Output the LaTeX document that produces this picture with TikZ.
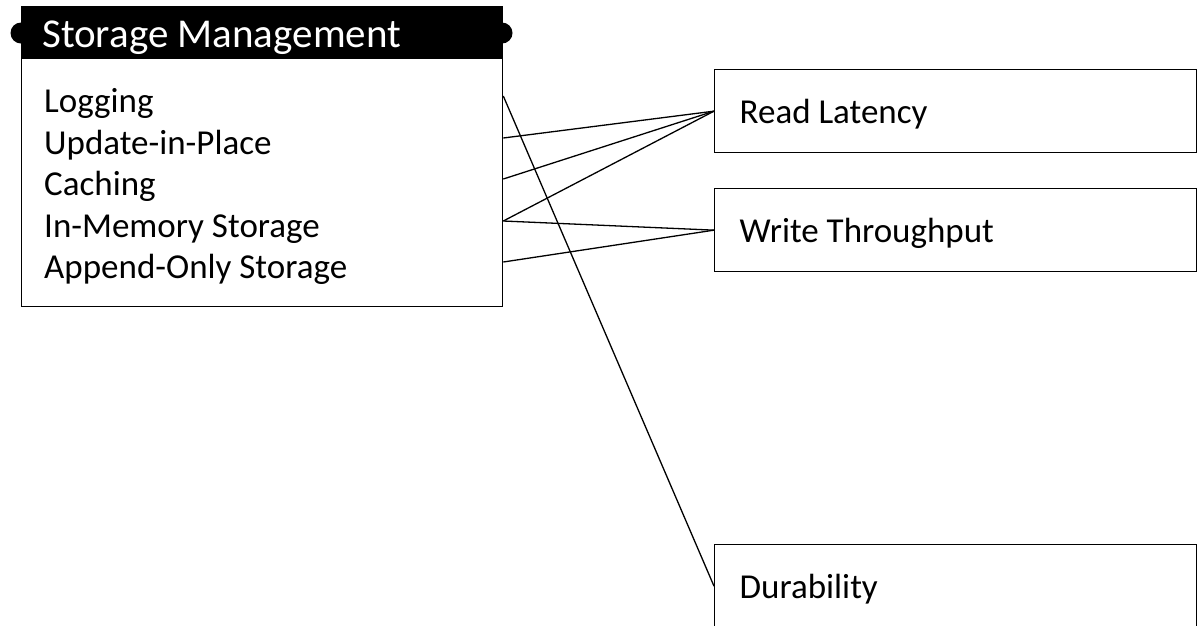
\documentclass[tikz,border=0pt]{standalone}
\usepackage{fontspec}
\setmainfont{Carlito}
\usetikzlibrary{positioning,calc}

\tikzset{
  edge/.style={line width=1.3pt},
  headbar/.style={fill=black, draw=black, line width=1.3pt, anchor=north west,
    minimum width=481pt, minimum height=52pt, inner sep=0pt},
  headtext/.style={text=white, anchor=base west, inner sep=0pt,
    font=\fontsize{41pt}{49pt}\selectfont},
  bodybox/.style={draw, line width=1.3pt, anchor=north west,
    minimum width=481pt, minimum height=248pt, inner sep=0pt},
  item/.style={anchor=base west, inner sep=0pt, text height=32pt, text depth=0pt,
    font=\fontsize{35pt}{42pt}\selectfont},
  attr/.style={draw, line width=1.3pt, anchor=north west, minimum height=83pt,
    text width=432pt, inner xsep=25pt, inner ysep=0pt, align=flush left,
    text height=30pt, text depth=5pt, font=\fontsize{35pt}{42pt}\selectfont},
}

\begin{document}
\begin{tikzpicture}[x=1pt, y=-1pt]
  \useasboundingbox (0,0) rectangle (1201,625);
  % entity box
  \fill (21,33) circle[radius=10.5];
  \fill (502,33) circle[radius=10.5];
  \node[headbar] (head) at (21,6) {};
  \node[headtext] (title) at (42,47) {Storage Management};
  \node[bodybox] (body) at (21,58) {};
  \node[item] (logging) at (44,112) {Logging};
  \node[item] (update) at (44,154) {Update-in-Place};
  \node[item] (caching) at (44,195) {Caching};
  \node[item] (inmem) at (44,237) {In-Memory Storage};
  \node[item] (append) at (44,278) {Append-Only Storage};
  % properties
  \node[attr] (latency) at (714,69) {Read Latency};
  \node[attr] (throughput) at (714,188) {Write Throughput};
  \node[attr] (durab) at (714,544) {Durability};
  % links
  \draw[edge] (body.east |- logging) -- (durab.west);
  \draw[edge] (body.east |- update) -- (latency.west);
  \draw[edge] (body.east |- caching) -- (latency.west);
  \draw[edge] (body.east |- inmem) -- (latency.west);
  \draw[edge] (body.east |- inmem) -- (throughput.west);
  \draw[edge] (body.east |- append) -- (throughput.west);
\end{tikzpicture}
\end{document}
